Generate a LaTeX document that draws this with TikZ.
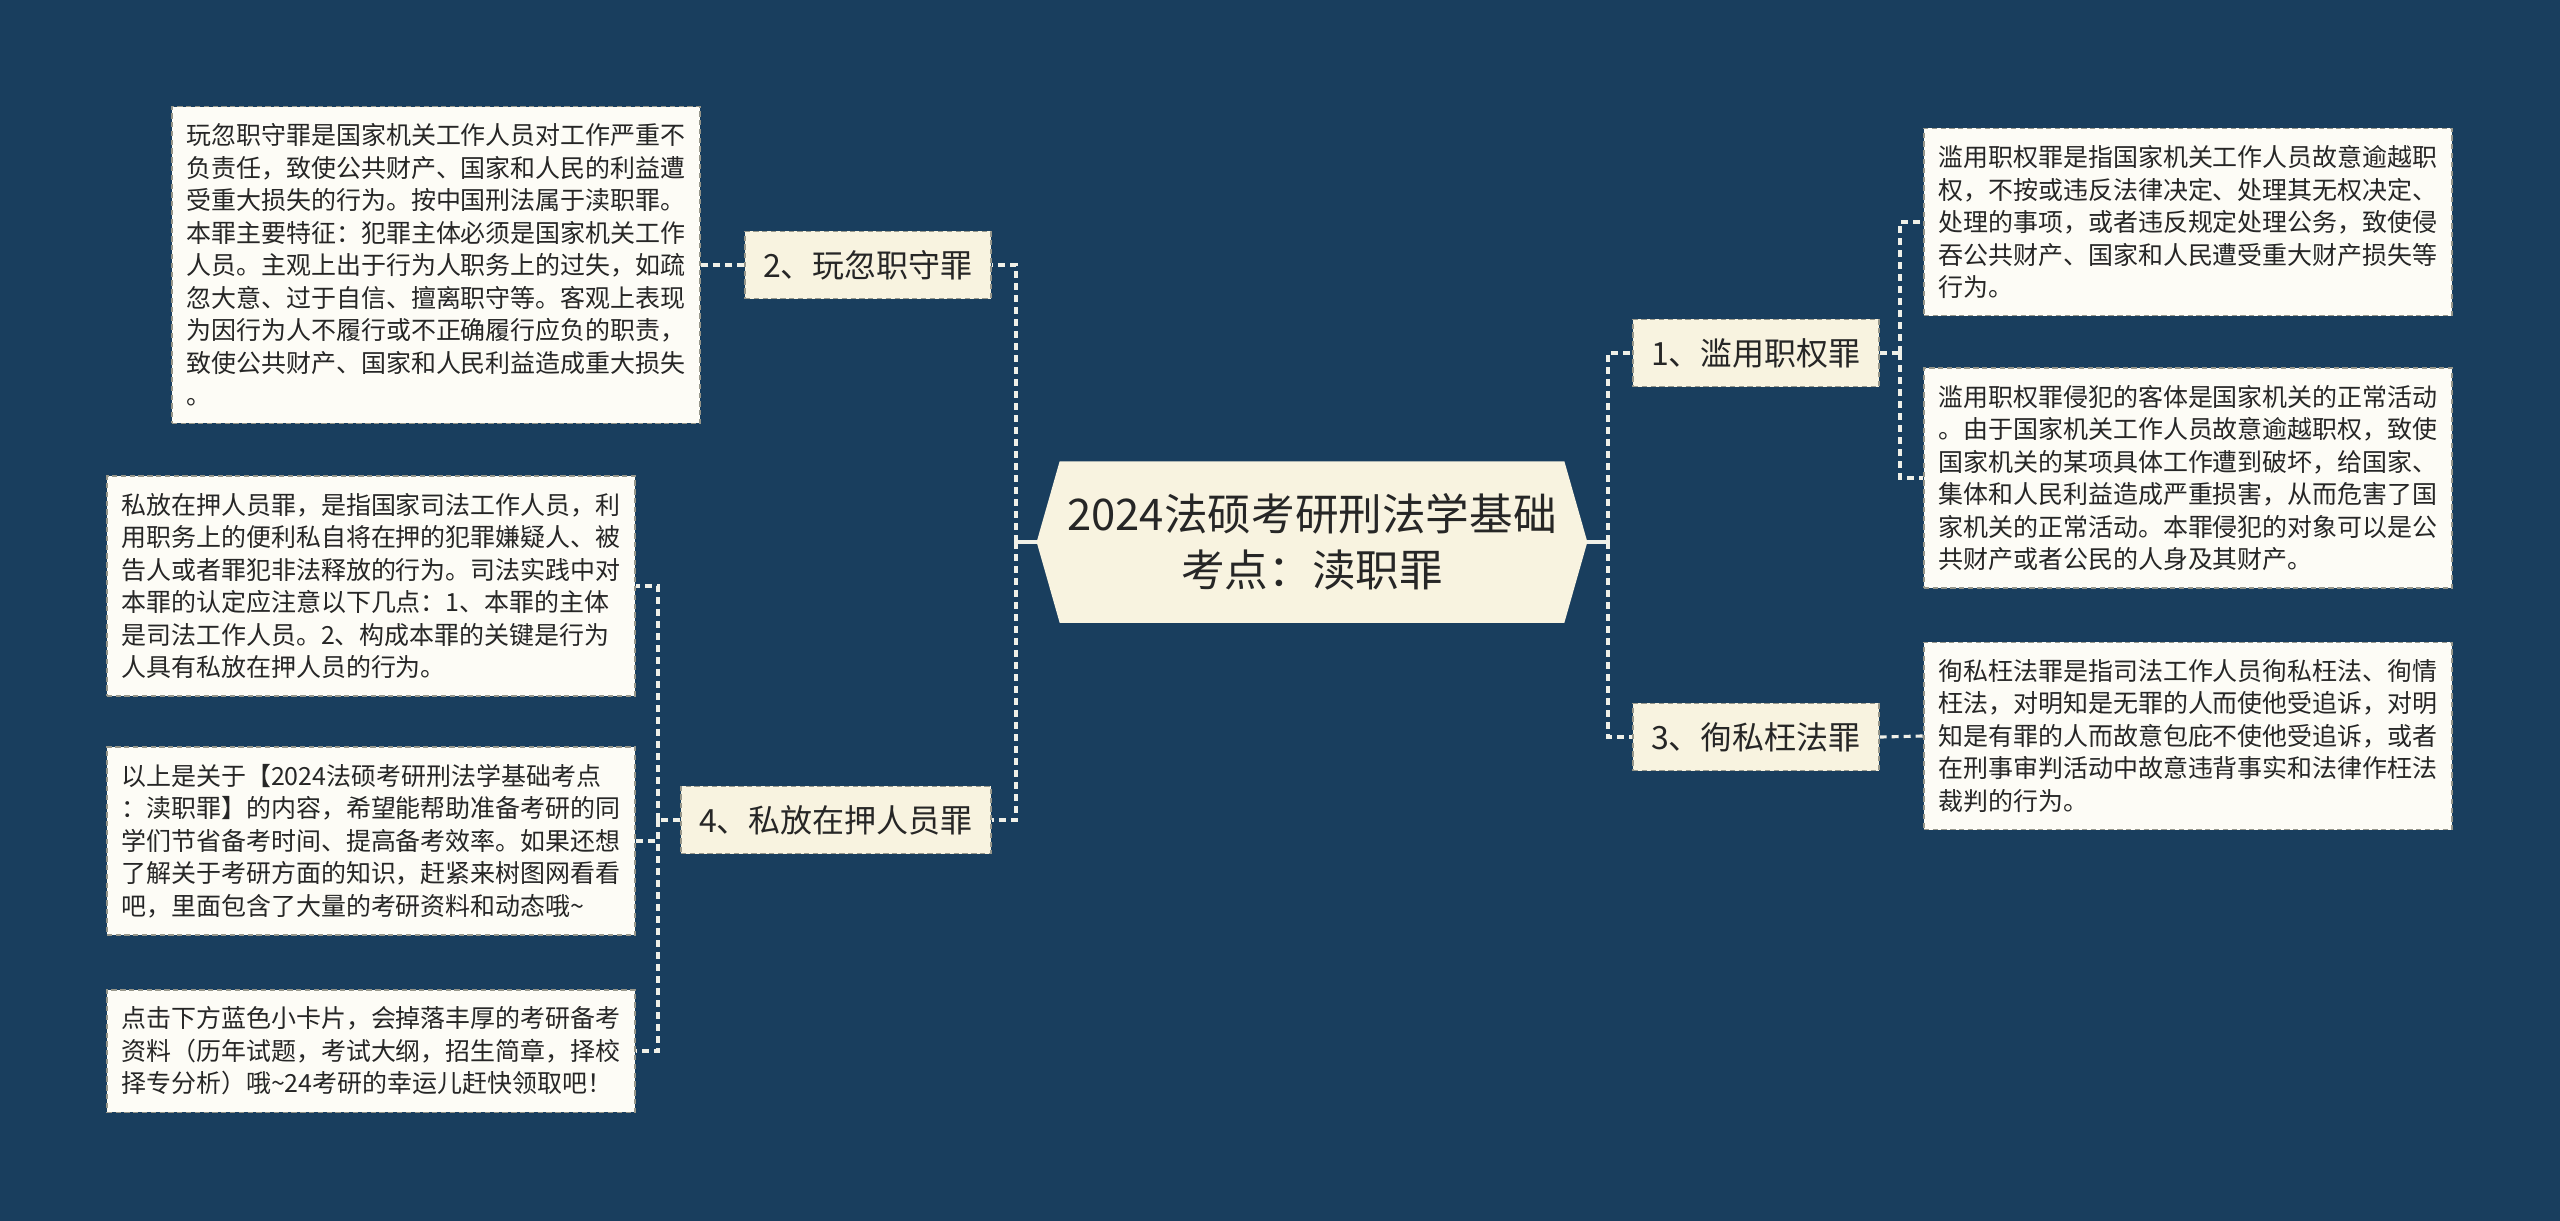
\documentclass[tikz,border=0pt]{standalone}
\usepackage{fontspec}
\setmainfont{Noto Sans CJK SC}
\usepackage{xcolor}
\usepackage{tikz}
\usetikzlibrary{positioning,calc,backgrounds}

\definecolor{navy}{RGB}{25,62,94}
\definecolor{topicfill}{RGB}{248,243,224}
\definecolor{notefill}{RGB}{253,252,246}
\definecolor{edgegray}{RGB}{150,150,138}
\definecolor{linkwhite}{RGB}{240,240,232}
\definecolor{ink}{RGB}{38,38,38}

\begin{document}
\begin{tikzpicture}[x=0.01cm, y=-0.01cm,
        root/.style={minimum width=5.49cm, minimum height=1.6cm, inner sep=0pt,
                     align=center, text=ink, font=\fontsize{12.4}{15.8}\selectfont},
        topic/.style={fill=topicfill, draw=edgegray, dash pattern=on 1.5pt off 1pt,
                      line width=0.45pt, minimum height=0.67cm, inner xsep=0.18cm,
                      text=ink, font=\fontsize{9.1}{11}\selectfont},
        note/.style={fill=notefill, draw=edgegray, dash pattern=on 1.5pt off 1pt,
                     line width=0.45pt, align=left, minimum width=5.28cm,
                     inner xsep=0.13cm, inner ysep=0.17cm,
                     text=ink, font=\fontsize{7.1}{9.25}\selectfont},
        link/.style={draw=linkwhite, line width=0.9pt, dash pattern=on 0.07cm off 0.05cm},
        stem/.style={draw=linkwhite, line width=0.9pt},
    ]
    \useasboundingbox (0,0) rectangle (2560,1221);

    % Central topic
    \node[root] (root) at (1312,542) {2024法硕考研刑法学基础\\考点：渎职罪};

    % Main branches
    \node[topic] (wanhu) at (868,265) {2、玩忽职守罪};
    \node[topic] (sifang) at (836,820) {4、私放在押人员罪};
    \node[topic] (lanyong) at (1756,353) {1、滥用职权罪};
    \node[topic] (xunsi) at (1756,737) {3、徇私枉法罪};

    % Notes -- left side
    \node[note] (wanhuNote) at (436,265) {玩忽职守罪是国家机关工作人员对工作严重不\\
        负责任，致使公共财产、国家和人民的利益遭\\
        受重大损失的行为。按中国刑法属于渎职罪。\\
        本罪主要特征：犯罪主体必须是国家机关工作\\
        人员。主观上出于行为人职务上的过失，如疏\\
        忽大意、过于自信、擅离职守等。客观上表现\\
        为因行为人不履行或不正确履行应负的职责，\\
        致使公共财产、国家和人民利益造成重大损失\\
        。};
    \node[note] (sifangNote) at (371,586) {私放在押人员罪，是指国家司法工作人员，利\\
        用职务上的便利私自将在押的犯罪嫌疑人、被\\
        告人或者罪犯非法释放的行为。司法实践中对\\
        本罪的认定应注意以下几点：1、本罪的主体\\
        是司法工作人员。2、构成本罪的关键是行为\\
        人具有私放在押人员的行为。};
    \node[note] (summaryNote) at (371,841) {以上是关于【2024法硕考研刑法学基础考点\\
        ：渎职罪】的内容，希望能帮助准备考研的同\\
        学们节省备考时间、提高备考效率。如果还想\\
        了解关于考研方面的知识，赶紧来树图网看看\\
        吧，里面包含了大量的考研资料和动态哦\textasciitilde};
    \node[note] (clickNote) at (371,1051) {点击下方蓝色小卡片，会掉落丰厚的考研备考\\
        资料（历年试题，考试大纲，招生简章，择校\\
        择专分析）哦\textasciitilde 24考研的幸运儿赶快领取吧！};

    % Notes -- right side
    \node[note] (lanyongNote) at (2188,222) {滥用职权罪是指国家机关工作人员故意逾越职\\
        权，不按或违反法律决定、处理其无权决定、\\
        处理的事项，或者违反规定处理公务，致使侵\\
        吞公共财产、国家和人民遭受重大财产损失等\\
        行为。};
    \node[note] (objectNote) at (2188,478) {滥用职权罪侵犯的客体是国家机关的正常活动\\
        。由于国家机关工作人员故意逾越职权，致使\\
        国家机关的某项具体工作遭到破坏，给国家、\\
        集体和人民利益造成严重损害，从而危害了国\\
        家机关的正常活动。本罪侵犯的对象可以是公\\
        共财产或者公民的人身及其财产。};
    \node[note] (xunsiNote) at (2188,736) {徇私枉法罪是指司法工作人员徇私枉法、徇情\\
        枉法，对明知是无罪的人而使他受追诉，对明\\
        知是有罪的人而故意包庇不使他受追诉，或者\\
        在刑事审判活动中故意违背事实和法律作枉法\\
        裁判的行为。};

    % Backdrop and hexagon of the central topic
    \begin{scope}[on background layer]
        \fill[navy] (0,0) rectangle (2560,1221);
        \fill[topicfill] ($(root.north west)+(23,0)$) -- ($(root.north east)+(-23,0)$)
            -- (root.east) -- ($(root.south east)+(-23,0)$)
            -- ($(root.south west)+(23,0)$) -- (root.west) -- cycle;
    \end{scope}

    % Connectors -- root to branches
    \coordinate (jL) at (1016,542);
    \coordinate (jR) at (1608,542);
    \draw[stem] (root.west) -- (jL);
    \draw[stem] (root.east) -- (jR);
    \draw[link] (jL) |- (wanhu.east);
    \draw[link] (jL) |- (sifang.east);
    \draw[link] (jR) |- (lanyong.west);
    \draw[link] (jR) |- (xunsi.west);

    % Connectors -- branches to notes
    \draw[link] (wanhu.west) -- (wanhuNote.east);
    \coordinate (jS) at (658,820);
    \draw[link] (sifang.west) -- (jS);
    \draw[link] (jS) |- (sifangNote.east);
    \draw[link] (jS) |- (summaryNote.east);
    \draw[link] (jS) |- (clickNote.east);
    \coordinate (jA) at (1900,353);
    \draw[link] (lanyong.east) -- (jA);
    \draw[link] (jA) |- (lanyongNote.west);
    \draw[link] (jA) |- (objectNote.west);
    \draw[link] (xunsi.east) -- (xunsiNote.west);
\end{tikzpicture}
\end{document}
